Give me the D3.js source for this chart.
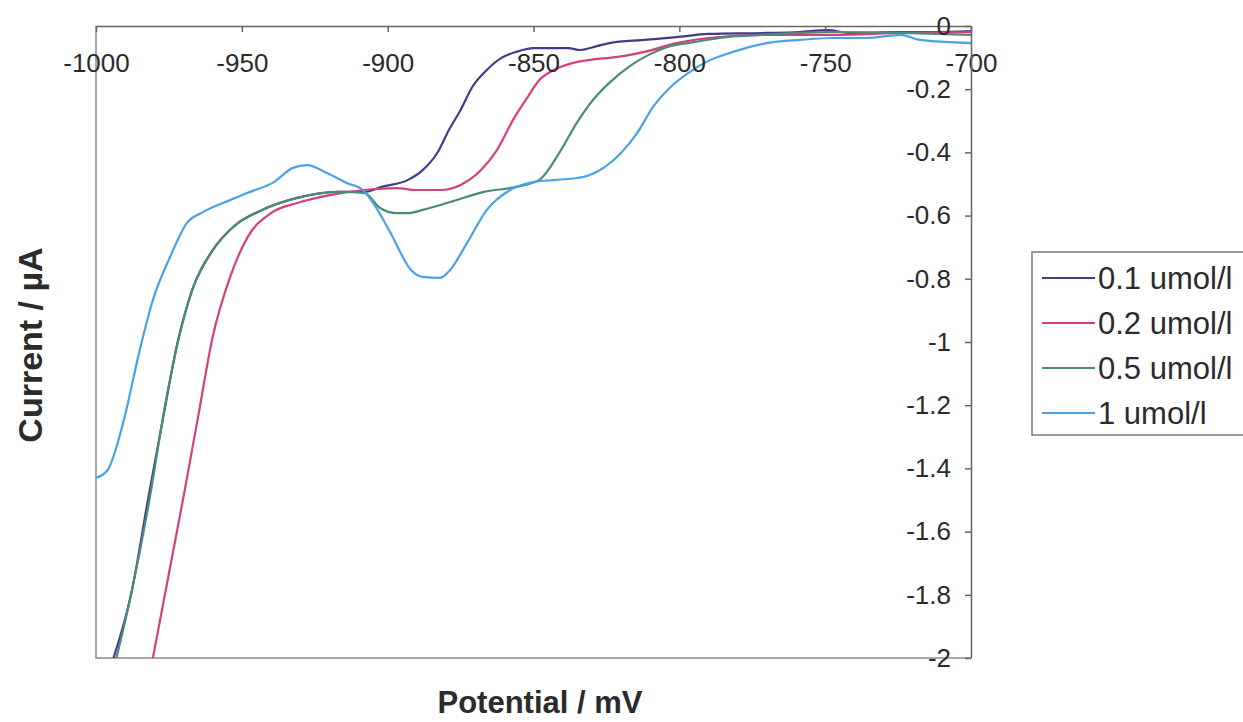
<!DOCTYPE html>
<html>
<head>
<meta charset="utf-8">
<script src="https://cdn.jsdelivr.net/npm/d3@7"></script>
<style>
	body { margin: 0; background: #fff; }
	svg { display: block; font-family: Arial, "Liberation Sans", sans-serif; }
	.axis text { fill: #2b2b2b; font-size: 26px; }
	.axis line, .axis path { stroke: #666; stroke-width: 1.5px; }
</style>
</head>
<body>
<div id="chart"></div>
<script>
'use strict';

// Data: [potential mV, current uA]
var seriesNames = ['0.1 umol/l', '0.2 umol/l', '0.5 umol/l', '1 umol/l'];
var seriesColors = ['#433b8c', '#d63f78', '#4e8a78', '#4aa2e6'];

var conc01 = [
	[-994, -2.0], [-988, -1.80], [-982, -1.49], [-977, -1.24], [-972, -1.0], [-967, -0.835],
	[-960, -0.71], [-953, -0.636], [-943, -0.582], [-931, -0.544], [-917, -0.525], [-908, -0.525],
	[-902, -0.509], [-893, -0.487], [-888, -0.456], [-883, -0.402], [-879, -0.329], [-875, -0.266],
	[-871, -0.193], [-866, -0.139], [-861, -0.101], [-856, -0.082], [-850, -0.07], [-844, -0.07],
	[-838, -0.07], [-834, -0.076], [-828, -0.063], [-824, -0.054], [-812, -0.044], [-801, -0.035],
	[-790, -0.025], [-770, -0.022], [-759, -0.019], [-749, -0.013], [-742, -0.022], [-724, -0.019],
	[-713, -0.019], [-700, -0.016]
];
var conc02 = [
	[-980.5, -2.0], [-970, -1.49], [-965, -1.237], [-960, -0.984], [-954, -0.794], [-948, -0.668],
	[-940, -0.592], [-931, -0.56], [-920, -0.535], [-908, -0.519], [-897, -0.513], [-890, -0.519],
	[-882, -0.519], [-875, -0.503], [-868, -0.456], [-862.5, -0.392], [-857, -0.297], [-852, -0.225],
	[-848, -0.171], [-843, -0.139], [-836.5, -0.117], [-828, -0.104], [-824, -0.101], [-812, -0.082],
	[-801, -0.054], [-790, -0.038], [-770, -0.028], [-747, -0.028], [-724, -0.022], [-700, -0.019]
];
var conc05 = [
	[-993, -2.0], [-988, -1.80], [-981.5, -1.49], [-977, -1.237], [-972, -1.003], [-967, -0.835],
	[-960, -0.709], [-953, -0.636], [-943, -0.582], [-931, -0.544], [-917, -0.525], [-908, -0.528],
	[-902.6, -0.576], [-897, -0.592], [-893, -0.592], [-888, -0.582], [-878.6, -0.557], [-867, -0.525],
	[-856, -0.509], [-848, -0.487], [-841, -0.399], [-835, -0.304], [-829.6, -0.234], [-824, -0.18],
	[-817, -0.127], [-810, -0.089], [-804, -0.066], [-795, -0.051], [-784, -0.035],
	[-772, -0.028], [-759, -0.022], [-747, -0.019], [-724, -0.022], [-700, -0.028]
];
var conc1 = [
	[-1000, -1.43], [-996, -1.405], [-990.7, -1.256], [-985, -1.025], [-980.5, -0.867], [-974.6, -0.731],
	[-968.8, -0.623], [-963.3, -0.589], [-954, -0.551], [-948, -0.528], [-939, -0.494], [-932.5, -0.449],
	[-927.7, -0.44], [-920.8, -0.465], [-914, -0.497], [-908.5, -0.519], [-905, -0.56], [-899, -0.655],
	[-892, -0.772], [-888, -0.794], [-882, -0.797], [-878.6, -0.772], [-872.8, -0.687], [-866, -0.582],
	[-858, -0.519], [-850, -0.494], [-842, -0.487], [-833, -0.478], [-825.5, -0.446], [-820, -0.402],
	[-814.5, -0.339], [-809, -0.256], [-803, -0.193], [-797, -0.149], [-789.5, -0.108], [-781.6, -0.082],
	[-770, -0.054], [-758.6, -0.044], [-747, -0.038], [-736, -0.038], [-724, -0.028], [-717.5, -0.044],
	[-700, -0.054]
];
var seriesData = [conc01, conc02, conc05, conc1];

var xTicks = [-1000, -950, -900, -850, -800, -750, -700];
var yTicks = [0, -0.2, -0.4, -0.6, -0.8, -1, -1.2, -1.4, -1.6, -1.8, -2];

var svg = d3.select('#chart').append('svg')
	.attr('width', 1243)
	.attr('height', 722);

// Plot area
var plot = {left: 96, right: 971, top: 26, bottom: 658};

var x = d3.scaleLinear().domain([-1000, -700]).range([plot.left, plot.right]);
var y = d3.scaleLinear().domain([-2, 0]).range([plot.bottom, plot.top]);

// Frame (left + bottom)
svg.append('path')
	.attr('d', 'M' + plot.left + ',' + plot.top + 'V' + plot.bottom + 'H' + plot.right)
	.attr('fill', 'none')
	.attr('stroke', '#8a8a8a')
	.attr('stroke-width', 1.5);

// Lines
var line = d3.line()
	.x(function(d) { return x(d[0]); })
	.y(function(d) { return y(d[1]); })
	.curve(d3.curveMonotoneX);

svg.append('g').selectAll('path')
	.data(seriesData)
	.enter().append('path')
		.attr('d', line)
		.attr('fill', 'none')
		.attr('stroke', function(d, i) { return seriesColors[i]; })
		.attr('stroke-width', 2.2)
		.attr('stroke-linejoin', 'round');

// X axis along current = 0
svg.append('g')
	.attr('class', 'axis axis-x')
	.attr('transform', 'translate(0,' + y(0) + ')')
	.call(d3.axisBottom(x).tickValues(xTicks).tickSizeInner(6).tickSizeOuter(0).tickPadding(22)
		.tickFormat(function(d) { return String(d); }));

// Y axis along potential = -700
svg.append('g')
	.attr('class', 'axis axis-y')
	.attr('transform', 'translate(' + x(-700) + ',0)')
	.call(d3.axisLeft(y).tickValues(yTicks).tickSizeInner(6).tickSizeOuter(0).tickPadding(14)
		.tickFormat(function(d) { return String(+d.toFixed(1)); }));

// Axis titles
svg.append('text')
	.attr('x', 540)
	.attr('y', 713)
	.attr('text-anchor', 'middle')
	.attr('font-size', 31)
	.attr('font-weight', 'bold')
	.attr('fill', '#2b2b2b')
	.text('Potential / mV');

svg.append('text')
	.attr('transform', 'translate(42,345) rotate(-90)')
	.attr('text-anchor', 'middle')
	.attr('font-size', 34)
	.attr('font-weight', 'bold')
	.attr('fill', '#2b2b2b')
	.text('Current / \u00b5A');

// Legend
var legend = svg.append('g').attr('transform', 'translate(1032,252)');
legend.append('rect')
	.attr('x', 0).attr('y', 0)
	.attr('width', 230).attr('height', 183)
	.attr('fill', '#fff')
	.attr('stroke', '#7a7a7a')
	.attr('stroke-width', 1.5);

var item = legend.selectAll('.item')
	.data(seriesNames)
	.enter().append('g')
		.attr('class', 'item')
		.attr('transform', function(d, i) { return 'translate(0,' + (26 + i * 45) + ')'; });

item.append('line')
	.attr('x1', 10).attr('x2', 63)
	.attr('stroke', function(d, i) { return seriesColors[i]; })
	.attr('stroke-width', 2.2);

item.append('text')
	.attr('x', 66)
	.attr('dy', '0.35em')
	.attr('font-size', 31)
	.attr('fill', '#2b2b2b')
	.text(function(d) { return d; });
</script>
</body>
</html>
